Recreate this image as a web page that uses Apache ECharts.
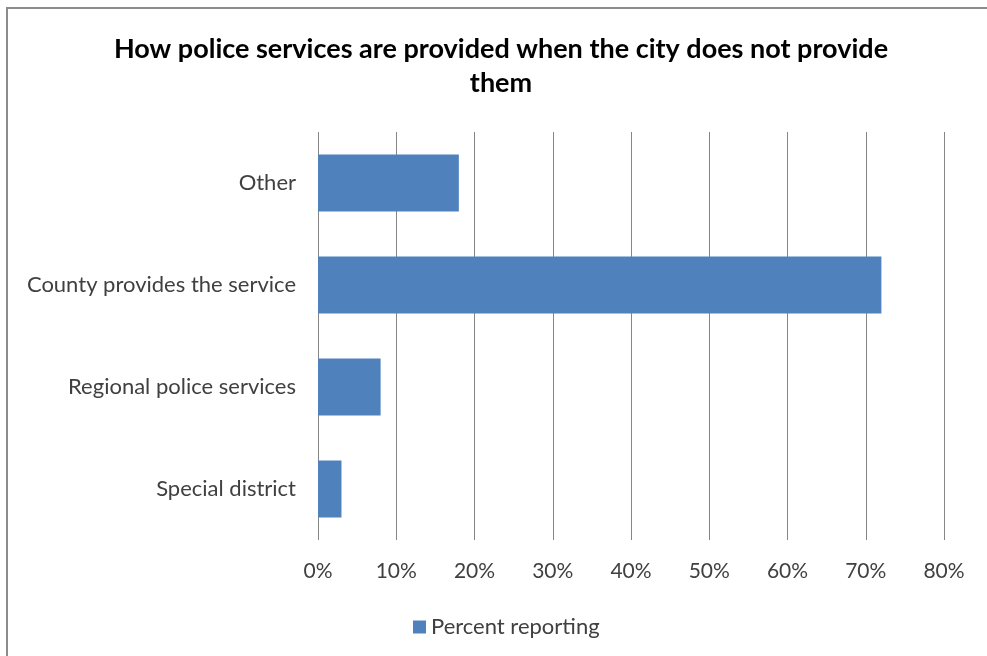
<!DOCTYPE html>
<html>
<head>
<meta charset="utf-8">
<script src="https://cdn.jsdelivr.net/npm/echarts@6/dist/echarts.min.js"></script>
<style>
  html, body { margin: 0; padding: 0; background: #ffffff; }
  #chart { width: 987px; height: 656px; }
</style>
</head>
<body>
<div id="chart"></div>
<script>
// Categories listed bottom-to-top (category axis on y starts at the bottom)
const categories = ['Special district', 'Regional police services', 'County provides the service', 'Other'];
const percentReporting = [3, 8, 72, 18];
const seriesName = 'Percent reporting';
const titleText = 'How police services are provided when the city does not provide\nthem';

const FONT = 'Lato, "Open Sans", sans-serif';

const chart = echarts.init(document.getElementById('chart'));
chart.setOption({
  backgroundColor: '#ffffff',
  animation: false,
  title: {
    text: titleText,
    left: 496,
    textAlign: 'center',
    top: 27,
    textStyle: {
      fontFamily: FONT,
      fontWeight: 'bold',
      fontSize: 27,
      lineHeight: 34,
      color: '#000000'
    }
  },
  legend: {
    data: [seriesName],
    left: 408,
    top: 611,
    itemWidth: 13,
    itemHeight: 13,
    itemGap: 8,
    icon: 'rect',
    textStyle: { fontFamily: FONT, fontSize: 22, color: '#404040' }
  },
  grid: { left: 318, right: 43, top: 132, bottom: 116, containLabel: false },
  xAxis: {
    type: 'value',
    min: 0,
    max: 80,
    interval: 10,
    axisLine: { show: false },
    axisTick: { show: false },
    axisLabel: {
      formatter: '{value}%',
      fontFamily: FONT,
      fontSize: 21,
      color: '#404040',
      margin: 21
    },
    splitLine: { show: true, lineStyle: { color: '#868686', width: 1 } }
  },
  yAxis: {
    type: 'category',
    data: categories,
    axisLine: { show: false },
    axisTick: { show: false },
    axisLabel: {
      fontFamily: FONT,
      fontSize: 22,
      color: '#404040',
      margin: 22
    }
  },
  series: [{
    name: seriesName,
    type: 'bar',
    data: percentReporting,
    barCategoryGap: '44%',
    itemStyle: { color: '#4f81bd' }
  }],
  graphic: [{
    type: 'rect',
    shape: { x: 7, y: 8, width: 1100, height: 800 },
    style: { fill: 'none', stroke: '#8c8c8c', lineWidth: 2 },
    silent: true,
    z: 100
  }]
});
</script>
</body>
</html>
